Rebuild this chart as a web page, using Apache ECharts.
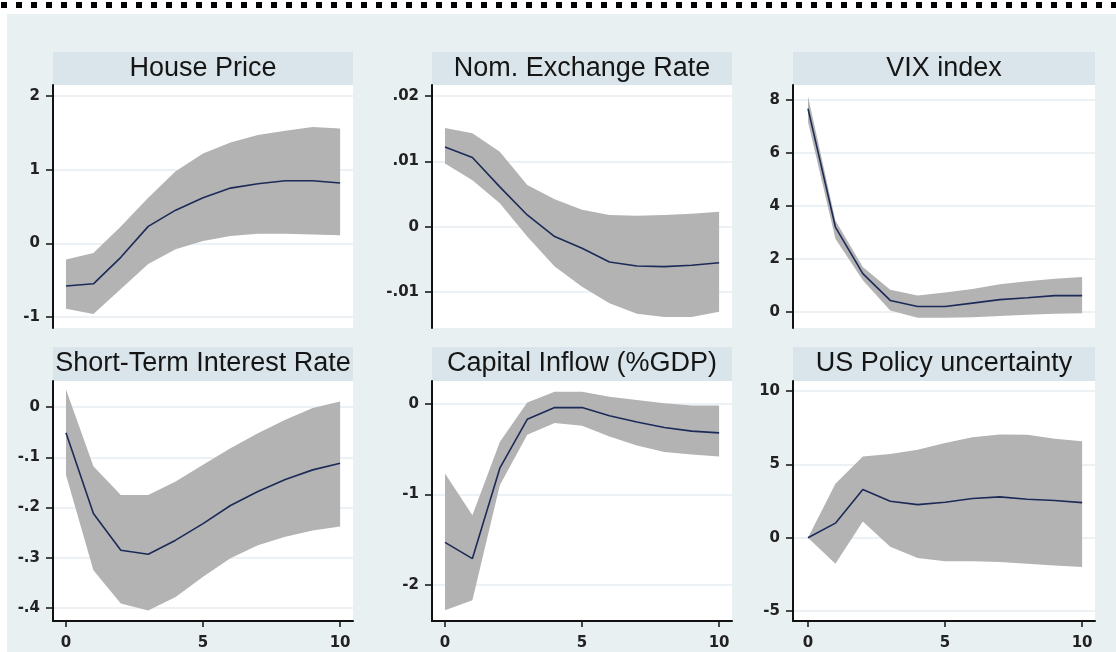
<!DOCTYPE html>
<html>
<head>
<meta charset="utf-8">
<script src="https://cdn.jsdelivr.net/npm/echarts@6/dist/echarts.min.js"></script>
<style>
  html, body { margin: 0; padding: 0; background: #ffffff; }
  #chart { width: 1116px; height: 652px; }
</style>
</head>
<body>
<div id="chart"></div>
<script>
const steps = [0, 1, 2, 3, 4, 5, 6, 7, 8, 9, 10];

const houseMid = [-0.58, -0.55, -0.19, 0.23, 0.45, 0.62, 0.75, 0.81, 0.85, 0.85, 0.82];
const houseHi  = [-0.22, -0.13, 0.23, 0.62, 0.98, 1.22, 1.37, 1.47, 1.53, 1.58, 1.56];
const houseLo  = [-0.89, -0.96, -0.62, -0.28, -0.08, 0.03, 0.10, 0.13, 0.13, 0.12, 0.11];

const fxMid = [0.0122, 0.0106, 0.0061, 0.0018, -0.0015, -0.0033, -0.0054, -0.0060, -0.0061, -0.0059, -0.0055];
const fxHi  = [0.0151, 0.0143, 0.0115, 0.0064, 0.0042, 0.0026, 0.0018, 0.0017, 0.0018, 0.0020, 0.0023];
const fxLo  = [0.0097, 0.0071, 0.0036, -0.0015, -0.0061, -0.0092, -0.0117, -0.0133, -0.0138, -0.0138, -0.0130];

const vixMid = [7.68, 3.21, 1.45, 0.44, 0.21, 0.21, 0.34, 0.47, 0.54, 0.62, 0.62];
const vixHi  = [8.15, 3.46, 1.70, 0.84, 0.63, 0.74, 0.87, 1.05, 1.16, 1.26, 1.32];
const vixLo  = [7.18, 2.77, 1.20, 0.06, -0.21, -0.21, -0.19, -0.15, -0.10, -0.06, -0.04];

const rateMid = [-0.051, -0.212, -0.285, -0.293, -0.265, -0.232, -0.196, -0.168, -0.144, -0.125, -0.112];
const rateHi  = [0.035, -0.118, -0.175, -0.175, -0.148, -0.115, -0.082, -0.052, -0.025, -0.002, 0.011];
const rateLo  = [-0.135, -0.325, -0.391, -0.405, -0.378, -0.338, -0.301, -0.275, -0.258, -0.246, -0.238];

const capMid = [-1.53, -1.71, -0.71, -0.17, -0.04, -0.04, -0.13, -0.20, -0.26, -0.30, -0.32];
const capHi  = [-0.77, -1.23, -0.42, 0.015, 0.136, 0.136, 0.08, 0.044, 0.007, -0.018, -0.018];
const capLo  = [-2.28, -2.17, -0.90, -0.34, -0.21, -0.24, -0.36, -0.46, -0.53, -0.56, -0.58];

const epuMid = [0, 0.99, 3.29, 2.48, 2.25, 2.41, 2.67, 2.78, 2.62, 2.53, 2.39];
const epuHi  = [0, 3.68, 5.54, 5.70, 6.00, 6.46, 6.85, 7.03, 7.01, 6.74, 6.57];
const epuLo  = [0, -1.77, 1.10, -0.62, -1.38, -1.61, -1.61, -1.66, -1.77, -1.89, -2.00];

const titles = ["House Price", "Nom. Exchange Rate", "VIX index",
                "Short-Term Interest Rate", "Capital Inflow (%GDP)", "US Policy uncertainty"];
const yTicks = [[-1, 0, 1, 2], [-0.01, 0, 0.01, 0.02], [0, 2, 4, 6, 8],
                [-0.4, -0.3, -0.2, -0.1, 0], [-2, -1, 0], [-5, 0, 5, 10]];
const xTicks = [0, 5, 10];

const mids = [houseMid, fxMid, vixMid, rateMid, capMid, epuMid];
const his = [houseHi, fxHi, vixHi, rateHi, capHi, epuHi];
const los = [houseLo, fxLo, vixLo, rateLo, capLo, epuLo];

// plot regions (layout only)
const cols = [
  { left: 53, width: 300, xmin: -0.474, xmax: 10.47 },
  { left: 432, width: 300, xmin: -0.474, xmax: 10.47 },
  { left: 793, width: 302, xmin: -0.547, xmax: 10.47 }
];
const rows = [
  { top: 85, height: 243, stripTop: 52, stripH: 33 },
  { top: 381, height: 240, stripTop: 347, stripH: 34 }
];
const yRanges = [[-1.15, 2.15], [-0.0155, 0.0217], [-0.6, 8.57],
                 [-0.426, 0.052], [-2.40, 0.254], [-5.68, 10.68]];

const bandColor = "#b3b3b3";
const lineColor = "#1c2a57";
const gridColor = "#e4edf0";
const labelFont = "DejaVu Sans";

function fmt(v) {
  const s = String(+v.toFixed(4));
  return s.replace(/^(-?)0\./, "$1.");
}

// confidence band as one polygon: upper edge forward, lower edge back
function bandRenderer(lo, hi) {
  return function (params, api) {
    if (params.dataIndex !== 0) return;
    const pts = [];
    for (let k = 0; k < steps.length; k++) pts.push(api.coord([steps[k], hi[k]]));
    for (let k = steps.length - 1; k >= 0; k--) pts.push(api.coord([steps[k], lo[k]]));
    return { type: "polygon", shape: { points: pts }, style: { fill: bandColor } };
  };
}

const grid = [], xAxis = [], yAxis = [], series = [];
const graphic = [
  { type: "rect", shape: { x: 7, y: 14, width: 1109, height: 638 }, style: { fill: "#e8f0f2" }, z: -10 },
  { type: "line", shape: { x1: 1, y1: 5, x2: 1116, y2: 5 },
    style: { stroke: "#000", lineWidth: 6, lineDash: [6, 9] } }
];

for (let i = 0; i < 6; i++) {
  const c = cols[i % 3], r = rows[Math.floor(i / 3)];
  const bottomRow = i >= 3;
  grid.push({ left: c.left, top: r.top, width: c.width, height: r.height,
              show: true, backgroundColor: "#ffffff", borderWidth: 0 });
  graphic.push({ type: "rect", shape: { x: c.left, y: r.stripTop, width: c.width, height: r.stripH },
                 style: { fill: "#d9e5ea" }, z: -5 });
  graphic.push({ type: "text", x: c.left + c.width / 2, y: r.stripTop + r.stripH / 2,
                 style: { text: titles[i], font: "27px 'Liberation Sans'", fill: "#151515",
                          textAlign: "center", textVerticalAlign: "middle" }, z: 5 });
  xAxis.push({
    type: "value", gridIndex: i, min: c.xmin, max: c.xmax, show: bottomRow,
    axisLine: { show: true, onZero: false, lineStyle: { color: "#111", width: 2 } },
    axisTick: { show: true, length: 6, customValues: xTicks, lineStyle: { color: "#111", width: 1.5 } },
    axisLabel: { customValues: xTicks, color: "#222", fontFamily: labelFont, fontWeight: "bold",
                 fontSize: 15, margin: 15, formatter: fmt },
    splitLine: { show: false }
  });
  yAxis.push({
    type: "value", gridIndex: i, min: yRanges[i][0], max: yRanges[i][1],
    axisLine: { show: true, onZero: false, lineStyle: { color: "#111", width: 2 } },
    axisTick: { show: true, length: 7, customValues: yTicks[i], lineStyle: { color: "#111", width: 1.5 } },
    axisLabel: { customValues: yTicks[i], color: "#222", fontFamily: labelFont, fontWeight: "bold",
                 fontSize: 15, margin: 13, formatter: fmt },
    splitLine: { show: true, lineStyle: { color: gridColor, width: 1.5 } }
  });
  const lo = los[i], hi = his[i], mid = mids[i];
  series.push({
    type: "custom", xAxisIndex: i, yAxisIndex: i, silent: true, z: 2,
    data: steps.map((s, k) => [s, lo[k], hi[k]]),
    encode: { x: 0, y: [1, 2] },
    renderItem: bandRenderer(lo, hi)
  });
  series.push({
    type: "line", xAxisIndex: i, yAxisIndex: i, data: steps.map((s, k) => [s, mid[k]]),
    symbol: "none", silent: true, z: 5,
    lineStyle: { color: lineColor, width: 1.6 }
  });
}

const chart = echarts.init(document.getElementById("chart"), null, { renderer: "canvas" });
chart.setOption({
  backgroundColor: "#ffffff",
  animation: false,
  graphic: graphic,
  grid: grid,
  xAxis: xAxis,
  yAxis: yAxis,
  series: series
});
</script>
</body>
</html>
